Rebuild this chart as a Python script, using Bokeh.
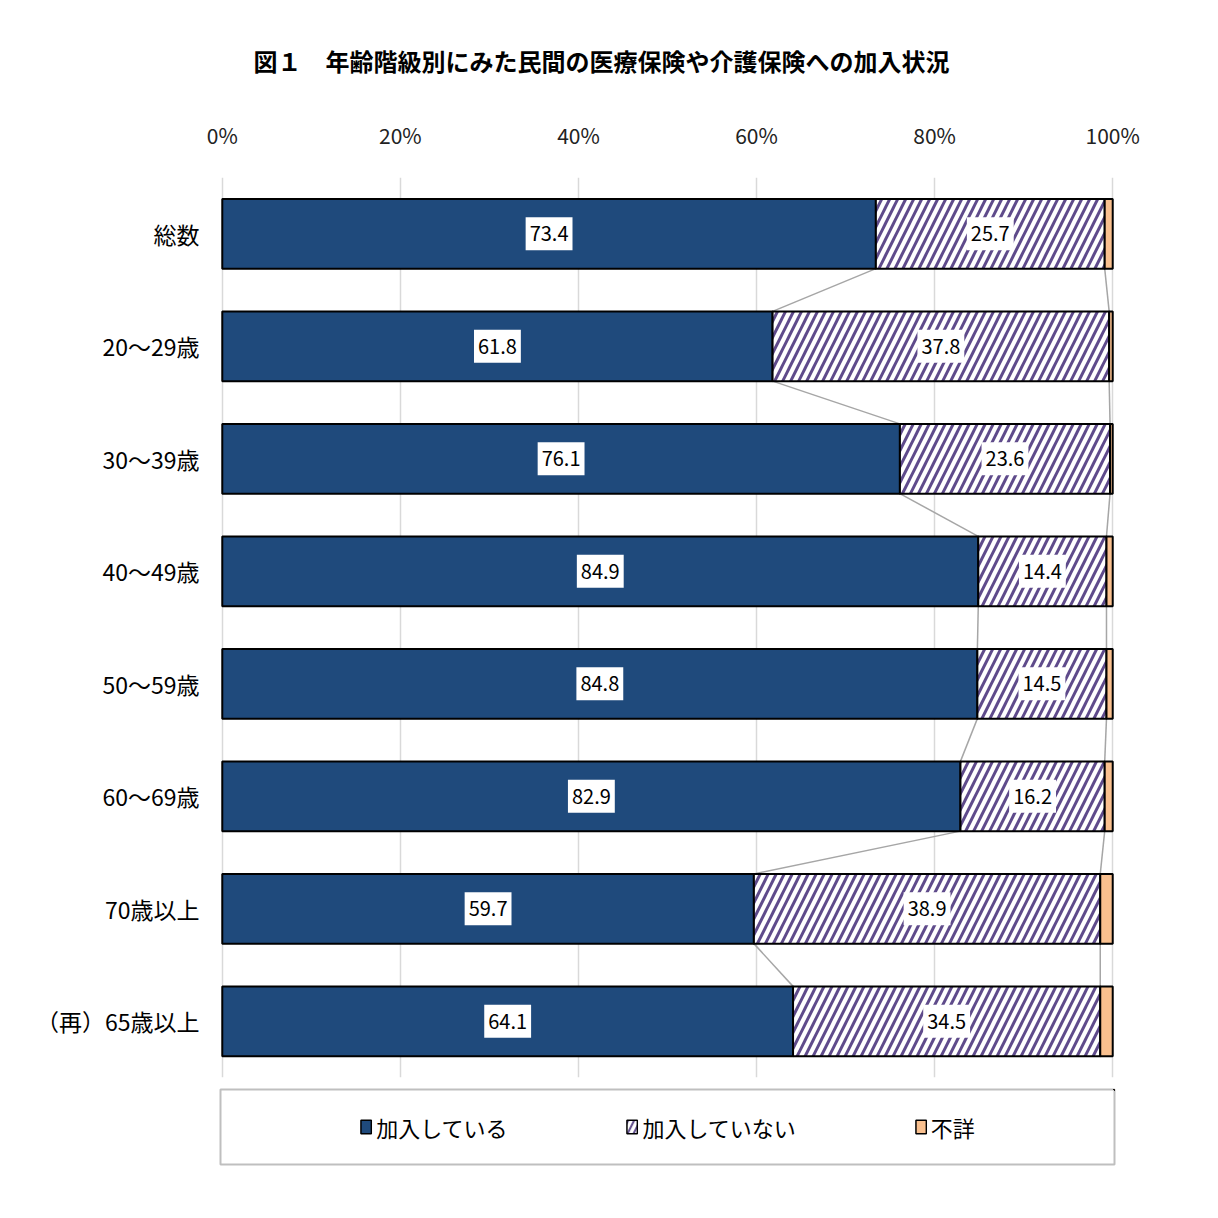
from bokeh.plotting import figure
from bokeh.models import (ColumnDataSource, Range1d, FixedTicker, PrintfTickFormatter,
                          Legend, LegendItem)
from bokeh.layouts import column
from bokeh.core.properties import value
from bokeh.embed import file_html
from bokeh.resources import INLINE

# data (percent)
categories = ["総数", "20～29歳", "30～39歳", "40～49歳", "50～59歳",
              "60～69歳", "70歳以上", "（再）65歳以上"]
insured = [73.4, 61.8, 76.1, 84.9, 84.8, 82.9, 59.7, 64.1]
not_insured = [25.7, 37.8, 23.6, 14.4, 14.5, 16.2, 38.9, 34.5]
unknown = [0.9, 0.4, 0.3, 0.7, 0.7, 0.9, 1.4, 1.4]
series_names = ["加入している", "加入していない", "不詳"]
x_ticks = [0, 20, 40, 60, 80, 100]

title = "図１　年齢階級別にみた民間の医療保険や介護保険への加入状況"

FONT = "Noto Sans CJK JP"
NAVY = "#1f4a7c"
PURPLE = "#5f4b8b"
ORANGE = "#f9c08f"
BAR_H = 0.62
BORDER_L, BORDER_R = 220, 86

n = len(categories)
ypos = list(range(n))
cum1 = insured
cum2 = [a + b for a, b in zip(insured, not_insured)]
cum3 = [a + b + c for a, b, c in zip(insured, not_insured, unknown)]

src = ColumnDataSource(dict(
    y=ypos, r1=cum1, r2=cum2, r3=cum3,
    m1=[v / 2 for v in cum1],
    m2=[a + b / 2 for a, b in zip(cum1, not_insured)],
    t1=[f"{v:.1f}" for v in insured],
    t2=[f"{v:.1f}" for v in not_insured],
))

bar_styles = [
    dict(left=0, right="r1", fill_color=NAVY),
    dict(left="r1", right="r2", fill_color="white", hatch_pattern="/", hatch_color=PURPLE,
         hatch_weight=3, hatch_scale=16),
    dict(left="r2", right="r3", fill_color=ORANGE),
]

p = figure(width=1200, height=1088, x_range=Range1d(-0.2, 100.2), y_range=Range1d(7.5, -0.5),
           x_axis_location="above", output_backend="svg", toolbar_location=None,
           min_border_left=BORDER_L, min_border_right=BORDER_R,
           min_border_top=177, min_border_bottom=11)

p.title.text = title
p.title.align = "left"
p.title.offset = 33
p.title.standoff = 78
p.title.text_font = FONT
p.title.text_font_size = "24px"
p.title.text_font_style = "bold"
p.title.text_color = "black"

p.outline_line_color = None
p.xaxis.ticker = FixedTicker(ticks=x_ticks)
p.xaxis.formatter = PrintfTickFormatter(format="%d%%")
p.xaxis.axis_line_color = None
p.xaxis.major_tick_line_color = None
p.xaxis.minor_tick_line_color = None
p.xaxis.major_label_standoff = 22
p.xaxis.major_label_text_font = FONT
p.xaxis.major_label_text_font_size = "21px"
p.xaxis.major_label_text_color = "#222222"

p.yaxis.ticker = FixedTicker(ticks=ypos)
p.yaxis.major_label_overrides = {i: c for i, c in zip(ypos, categories)}
p.yaxis.axis_line_color = None
p.yaxis.major_tick_line_color = None
p.yaxis.minor_tick_line_color = None
p.yaxis.major_label_standoff = 15
p.yaxis.major_label_text_font = FONT
p.yaxis.major_label_text_font_size = "23px"
p.yaxis.major_label_text_color = "black"

p.xgrid.ticker = FixedTicker(ticks=x_ticks)
p.xgrid.grid_line_color = "#d9d9d9"
p.xgrid.grid_line_width = 1.5
p.ygrid.grid_line_color = None

# series lines between neighbouring bars
for cum in (cum1, cum2):
    p.segment(x0=cum[:-1], y0=[i + BAR_H / 2 for i in ypos[:-1]],
              x1=cum[1:], y1=[i + 1 - BAR_H / 2 for i in ypos[:-1]],
              line_color="#a6a6a6", line_width=1.5)

for st in bar_styles:
    p.hbar(y="y", height=BAR_H, source=src, line_color="black", line_width=2, **st)

for xcol, tcol in (("m1", "t1"), ("m2", "t2")):
    p.text(x=xcol, y="y", text=tcol, source=src, text_align="center", text_baseline="middle",
           text_font=value(FONT), text_font_size="20px", text_color="black",
           background_fill_color="white", padding=(4, 9))

# legend in its own boxed strip below the chart; its view window lies well away
# from the data in both directions so the bars themselves stay out of sight there
lg = figure(width=1200, height=79, x_range=Range1d(-300, -200), y_range=Range1d(-3 * n, -3 * n + 1),
            x_axis_type=None, y_axis_type=None, output_backend="svg", toolbar_location=None,
            min_border_left=BORDER_L, min_border_right=BORDER_R,
            min_border_top=1, min_border_bottom=3)
lg.grid.visible = False
lg.outline_line_color = "#bfbfbf"
lg.outline_line_width = 2

legend_renderers = []
for st in bar_styles:
    st = dict(st, hatch_scale=12, hatch_weight=2) if "hatch_pattern" in st else st
    legend_renderers.append(lg.hbar(y="y", height=BAR_H, source=src,
                                    line_color="black", line_width=1.5, **st))

legend = Legend(items=[LegendItem(label=name, renderers=[r])
                       for name, r in zip(series_names, legend_renderers)],
                orientation="horizontal", location="center", spacing=118,
                glyph_width=13, glyph_height=17, label_standoff=4, padding=0, margin=0,
                label_text_font=FONT, label_text_font_size="22px", label_text_color="black",
                border_line_color=None, background_fill_alpha=0)
lg.add_layout(legend)

layout = column(p, lg)
open("out.html", "w").write(file_html(layout, INLINE))
